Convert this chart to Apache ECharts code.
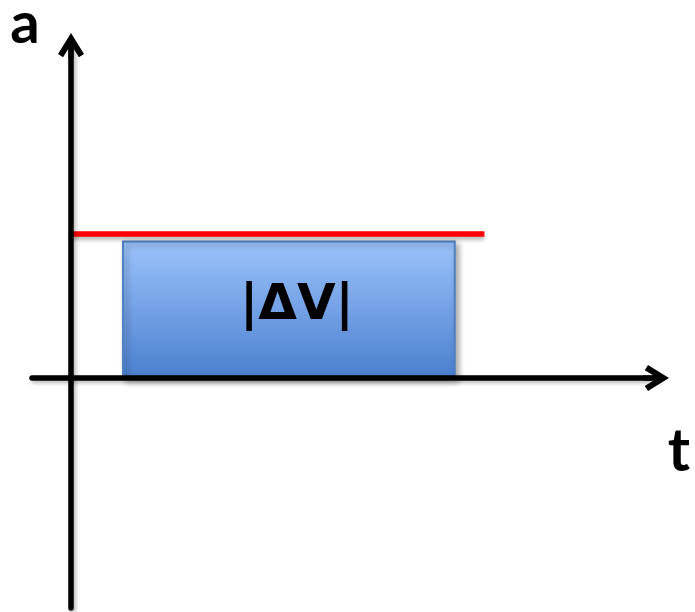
<!DOCTYPE html>
<html>
<head>
<meta charset="utf-8">
<script src="https://cdn.jsdelivr.net/npm/echarts@6/dist/echarts.min.js"></script>
<style>
  html, body { margin: 0; padding: 0; background: #fff; }
  #chart { width: 695px; height: 612px; }
</style>
</head>
<body>
<div id="chart"></div>
<script>
// axis ranges (arbitrary units: t along x, a along y)
const timeRange = [-0.75, 11.25]
const accelRange = [-1.597, 2.306]

// constant acceleration (red line)
const lineTime = [0, 7.95]
const lineAccel = [1, 1]

// shaded area = |ΔV|
const boxTime = [1, 7.38]
const boxAccel = [0, 0.948]
const boxLabel = '|ΔV|'

const axisLabels = ['t', 'a']

// open arrow head, tip at top, filled polygon (with a short stem)
const arrowPath = 'path://M13 0 L26 21 L20.9 24.2 L15.5 15.5 L15.5 26 L10.5 26 L10.5 15.5 L5.1 24.2 L0 21 Z'

const chart = echarts.init(document.getElementById('chart'))

const axisLine = {
  show: true,
  onZero: true,
  symbol: ['none', arrowPath],
  symbolSize: [26, 26],
  lineStyle: {
    color: '#000',
    width: 5.5,
    shadowColor: 'rgba(0,0,0,0.3)',
    shadowBlur: 4,
    shadowOffsetX: 2,
    shadowOffsetY: 2
  }
}

chart.setOption({
  animation: false,
  grid: { left: 32, right: 39, top: 46, bottom: 4 },
  xAxis: {
    type: 'value',
    min: timeRange[0],
    max: timeRange[1],
    z: 10,
    axisLine: axisLine,
    axisTick: { show: false },
    axisLabel: { show: false },
    splitLine: { show: false }
  },
  yAxis: {
    type: 'value',
    min: accelRange[0],
    max: accelRange[1],
    z: 10,
    axisLine: axisLine,
    axisTick: { show: false },
    axisLabel: { show: false },
    splitLine: { show: false }
  },
  graphic: [
    {
      type: 'text',
      x: 25,
      y: 24,
      style: {
        text: axisLabels[1],
        font: 'bold 58px Lato',
        fill: '#000',
        align: 'center',
        verticalAlign: 'middle'
      }
    },
    {
      type: 'text',
      x: 679,
      y: 452,
      style: {
        text: axisLabels[0],
        font: 'bold 60px Lato',
        fill: '#000',
        align: 'center',
        verticalAlign: 'middle'
      }
    }
  ],
  series: [
    {
      type: 'custom',
      z: 2,
      data: [[boxTime[0], boxTime[1], boxAccel[0], boxAccel[1]]],
      renderItem: function(params, api) {
        const p0 = api.coord([api.value(0), api.value(2)])
        const p1 = api.coord([api.value(1), api.value(3)])
        return {
          type: 'rect',
          shape: { x: p0[0], y: p1[1], width: p1[0] - p0[0], height: p0[1] - p1[1] },
          style: {
            fill: new echarts.graphic.LinearGradient(0, 0, 0, 1, [
              { offset: 0, color: '#9cc3fb' },
              { offset: 1, color: '#4a7fcf' }
            ]),
            stroke: '#4f80c2',
            lineWidth: 2,
            shadowColor: 'rgba(0,0,0,0.35)',
            shadowBlur: 6,
            shadowOffsetX: 3,
            shadowOffsetY: 3
          },
          textContent: {
            style: {
              text: boxLabel,
              font: 'bold 50px "DejaVu Sans"',
              fill: '#000'
            }
          },
          textConfig: { position: 'inside', offset: [8, -4] }
        }
      }
    },
    {
      type: 'line',
      z: 3,
      symbol: 'none',
      data: lineTime.map((t, i) => [t, lineAccel[i]]),
      lineStyle: {
        color: '#ff0000',
        width: 5.5,
        shadowColor: 'rgba(0,0,0,0.3)',
        shadowBlur: 4,
        shadowOffsetY: 3
      }
    }
  ]
})
</script>
</body>
</html>
